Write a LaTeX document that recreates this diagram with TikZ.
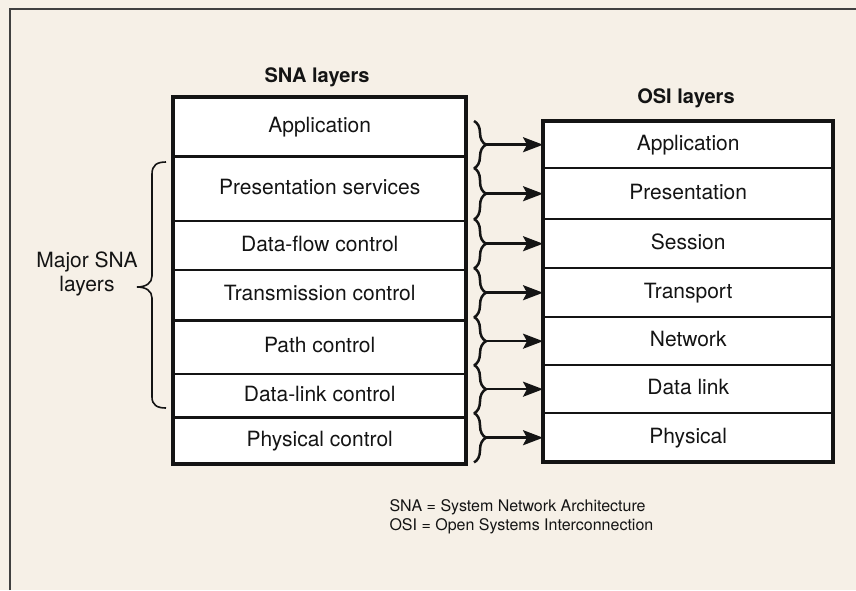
\documentclass[tikz,border=0pt]{standalone}
\usepackage{fontspec}
\setmainfont{TeX Gyre Heros}
\usetikzlibrary{arrows.meta,decorations.pathreplacing}
\definecolor{paper}{HTML}{F6F0E7}
\definecolor{ink}{HTML}{141414}
\begin{document}
\begin{tikzpicture}[x=1pt,y=-1pt,
  row/.style={fill=white, draw=none, inner sep=0pt, text height=15pt, text depth=4pt,
              font=\fontsize{21}{24}\selectfont, text=ink},
  septhin/.style={draw=ink, line width=2pt},
  septhick/.style={draw=ink, line width=3.5pt},
  outer/.style={draw=ink, line width=4pt},
  title/.style={font=\bfseries\fontsize{20}{24}\selectfont, text=ink},
  bracestyle/.style={draw=ink, line width=2.5pt, decorate, decoration={brace, amplitude=12pt}},
  arr/.style={draw=ink, line width=2.5pt, -{Stealth[length=20pt,width=15pt,inset=4pt]}},
  framestyle/.style={draw=black!75, line width=1.5pt}]
\fill[paper] (0,0) rectangle (856,590);
\useasboundingbox (0,0) rectangle (856,590);
\draw[framestyle] (10,590) -- (10,9) -- (856,9);

% SNA stack
\foreach \t/\h/\txt [count=\i] in {97/59/Application, 156/65/Presentation services,
    221/49/Data-flow control, 270/50/Transmission control, 320/54/Path control,
    374/43/Data-link control, 417/47/Physical control}
  \node[row, minimum width=293pt, minimum height={\h pt}, anchor=north west] (s\i) at (173,\t) {\txt};
\draw[septhick] (s1.south west) -- (s1.south east);
\draw[septhin]  (s2.south west) -- (s2.south east);
\draw[septhin]  (s3.south west) -- (s3.south east);
\draw[septhick] (s4.south west) -- (s4.south east);
\draw[septhin]  (s5.south west) -- (s5.south east);
\draw[septhick] (s6.south west) -- (s6.south east);
\draw[outer] (s1.north west) rectangle (s7.south east);

% OSI stack
\foreach \t/\h/\txt [count=\i] in {121/47/Application, 168/51/Presentation,
    219/49/Session, 268/49/Transport, 317/48/Network, 365/48/Data link, 413/49/Physical}
  \node[row, minimum width=290pt, minimum height={\h pt}, anchor=north west] (o\i) at (543,\t) {\txt};
\foreach \i in {1,...,6}
  \draw[septhin] (o\i.south west) -- (o\i.south east);
\draw[outer] (o1.north west) rectangle (o7.south east);

% titles
\node[title] (snatitle) at (317,77) {SNA layers};
\node[title] (osititle) at (686,98) {OSI layers};

% braces and arrows
\coordinate (bx) at (474,0);
\coordinate (tx) at (486,0);
\foreach \i in {1,...,7} {
  \coordinate (bt\i) at (o\i.north west -| bx);
  \coordinate (bb\i) at (o\i.south west -| bx);
  \coordinate (tip\i) at (o\i.west -| tx);
  \draw[bracestyle] (bt\i) -- (bb\i);
  \draw[arr] (tip\i) -- (o\i.west);
}

% major SNA layers brace
\draw[draw=ink, line width=1.6pt]
  (166,162) .. controls (157,162) and (152,165) .. (152,174) -- (152,276)
  .. controls (152,283) and (146,287) .. (137,287)
  .. controls (146,287) and (152,291) .. (152,298) -- (152,397)
  .. controls (152,405) and (157,408) .. (166,408);
\node[align=center, font=\fontsize{21}{24}\selectfont, text=ink] (major) at (87,274) {Major SNA\\layers};

% legend
\node[anchor=west, align=left, font=\fontsize{16}{19}\selectfont, text=ink] (legend) at (386,517)
  {SNA = System Network Architecture\\OSI = Open Systems Interconnection};
\end{tikzpicture}
\end{document}
